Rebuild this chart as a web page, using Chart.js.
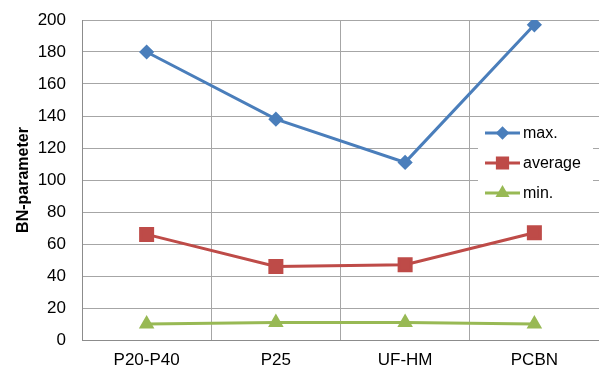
<!DOCTYPE html>
<html>
<head>
<meta charset="utf-8">
<script src="https://cdn.jsdelivr.net/npm/chart.js@4/dist/chart.umd.min.js"></script>
<style>
  html, body { margin: 0; padding: 0; background: #fff; }
  #wrap { width: 599px; height: 369px; position: relative; }
</style>
</head>
<body>
<div id="wrap"><canvas id="c" width="599" height="369"></canvas></div>
<script>
// Tool materials on the x axis
const categories = ['P20-P40', 'P25', 'UF-HM', 'PCBN'];
// BN-parameter per material
const maxValues = [180, 138, 111, 197];
const averageValues = [66, 46, 47, 67];
const minValues = [10, 11, 11, 10];
// Y axis range
const yMin = 0, yMax = 200, yStep = 20;

const FONT = '"Liberation Sans", Arial, sans-serif';

// Legend box drawn inside the plot area, right side
const insideLegend = {
  id: 'insideLegend',
  afterDatasetsDraw(chart) {
    const ctx = chart.ctx;
    const box = { x: 478, y: 118, w: 115, h: 90 };
    ctx.save();
    ctx.fillStyle = '#fff';
    ctx.fillRect(box.x, box.y, box.w, box.h);
    chart.data.datasets.forEach((ds, i) => {
      const y = 133 + i * 30;
      ctx.strokeStyle = ds.borderColor;
      ctx.lineWidth = 3;
      ctx.beginPath();
      ctx.moveTo(485, y);
      ctx.lineTo(520, y);
      ctx.stroke();
      ctx.fillStyle = ds.pointBackgroundColor;
      ctx.strokeStyle = ds.pointBackgroundColor;
      Chart.helpers.drawPoint(ctx, {
        pointStyle: ds.pointStyle,
        radius: ds.pointRadius * 0.85,
        borderWidth: 1,
        rotation: 0
      }, 502.5, y);
      ctx.fillStyle = '#000';
      ctx.font = '16px ' + FONT;
      ctx.textBaseline = 'middle';
      ctx.textAlign = 'left';
      ctx.fillText(ds.label, 523, y + 1);
    });
    ctx.restore();
  }
};

function series(label, data, color, style, radius) {
  return {
    label, data,
    borderColor: color,
    backgroundColor: color,
    pointBackgroundColor: color,
    pointBorderColor: color,
    pointStyle: style,
    pointRadius: radius,
    pointHoverRadius: radius,
    borderWidth: 3,
    tension: 0
  };
}

new Chart(document.getElementById('c'), {
  type: 'line',
  data: {
    labels: categories,
    datasets: [
      series('max.', maxValues, '#4A7EBB', 'rectRot', 5.5),
      series('average', averageValues, '#BE4B48', 'rect', 8.5),
      series('min.', minValues, '#98B954', 'triangle', 6)
    ]
  },
  options: {
    responsive: false,
    animation: false,
    devicePixelRatio: 1,
    layout: { autoPadding: false, padding: { left: 12, top: 20, right: 0, bottom: 0 } },
    plugins: {
      legend: { display: false },
      tooltip: { enabled: false }
    },
    scales: {
      x: {
        offset: true,
        grid: { offset: true, color: '#A6A6A6', lineWidth: 1, drawTicks: false },
        border: { color: '#8C8C8C', width: 1 },
        ticks: { color: '#000', font: { family: FONT, size: 17 }, padding: 10, maxRotation: 0 },
        afterFit(s) { s.height = 29; s.paddingLeft = 0; s.paddingRight = 0; }
      },
      y: {
        min: yMin, max: yMax,
        grid: { color: '#A6A6A6', lineWidth: 1, drawTicks: false },
        border: { color: '#8C8C8C', width: 1 },
        ticks: { stepSize: yStep, color: '#000', font: { family: FONT, size: 17 }, padding: 16 },
        title: {
          display: true, text: 'BN-parameter', color: '#000',
          font: { family: FONT, size: 16, weight: 'bold' }, padding: 2
        },
        afterFit(s) { s.width = 70; s.paddingTop = 0; s.paddingBottom = 0; }
      }
    }
  },
  plugins: [insideLegend]
});
</script>
</body>
</html>
